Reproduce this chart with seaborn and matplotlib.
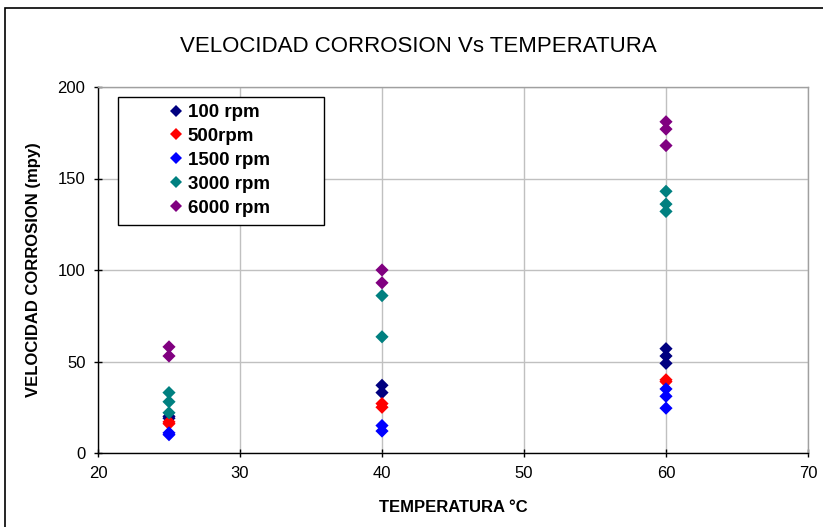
import matplotlib
matplotlib.use("Agg")
import matplotlib.pyplot as plt
from matplotlib.patches import Rectangle
import seaborn as sns
import pandas as pd

# Corrosion rate (mpy) measured at each temperature, per rotation speed
temperaturas = [25, 40, 60]
rpm_100 = {25: [20, 19], 40: [37, 33], 60: [57, 53, 49]}
rpm_500 = {25: [17, 16], 40: [27, 25], 60: [40, 39]}
rpm_1500 = {25: [11, 10], 40: [15, 12], 60: [35, 31, 24.5]}
rpm_3000 = {25: [33, 28, 22], 40: [86, 63.5], 60: [143, 136, 132]}
rpm_6000 = {25: [58, 53], 40: [100, 93], 60: [181, 177, 168]}

series = ["100 rpm", "500rpm", "1500 rpm", "3000 rpm", "6000 rpm"]
valores = [rpm_100, rpm_500, rpm_1500, rpm_3000, rpm_6000]
colores = ["#000080", "#FF0000", "#0000FF", "#008080", "#800080"]

filas = []
for nombre, datos in zip(series, valores):
    for t in temperaturas:
        for v in datos[t]:
            filas.append({"Temperatura": t, "Velocidad": v, "Serie": nombre})
df = pd.DataFrame(filas)

sns.set_theme(style="white")
plt.rcParams["font.family"] = ["Liberation Sans", "DejaVu Sans"]
plt.rcParams["text.color"] = "black"
plt.rcParams["axes.labelcolor"] = "black"

W, H = 823, 527
fig = plt.figure(figsize=(W / 100, H / 100), dpi=100)
fig.patch.set_facecolor("white")
ax = fig.add_axes([98 / W, 1 - 453 / H, (808 - 98) / W, (453 - 87) / H])

sns.scatterplot(
    data=df, x="Temperatura", y="Velocidad", hue="Serie",
    hue_order=series, palette=colores, marker="D", s=45,
    edgecolor="none", linewidth=0, ax=ax, zorder=3,
)

ax.set_xlim(20, 70)
ax.set_ylim(0, 200)
ax.set_xticks([20, 30, 40, 50, 60, 70])
ax.set_yticks([0, 50, 100, 150, 200])
ax.grid(True, color="#c0c0c0", linewidth=1.0)
ax.set_axisbelow(True)

for lado in ["top", "right"]:
    ax.spines[lado].set_color("#a0a0a0")
    ax.spines[lado].set_linewidth(1.0)
for lado in ["left", "bottom"]:
    ax.spines[lado].set_color("black")
    ax.spines[lado].set_linewidth(1.0)

ax.tick_params(axis="both", which="major", direction="inout", length=6,
               width=1, color="black", labelsize=12, colors="black",
               bottom=True, left=True, pad=6)
ax.set_xlabel("TEMPERATURA °C", fontsize=12, fontweight="bold", labelpad=14,
              color="black")
ax.set_ylabel("VELOCIDAD CORROSION (mpy)", fontsize=12, fontweight="bold",
              labelpad=12, color="black")

fig.text(0.508, 1 - 47 / H, "VELOCIDAD CORROSION Vs TEMPERATURA",
         ha="center", va="center", fontsize=16, color="black")

# legend box with the entries set towards its right side
caja = Rectangle((118 / W, 1 - 225 / H), (324 - 118) / W, (225 - 97) / H,
                 transform=fig.transFigure, facecolor="white",
                 edgecolor="black", linewidth=1.0, zorder=4)
ax.add_patch(caja)
caja.set_clip_on(False)

leg = ax.legend(
    loc="upper left", bbox_to_anchor=(167 / W, 1 - 104 / H),
    bbox_transform=fig.transFigure, frameon=False,
    prop={"weight": "bold", "size": 13.5}, handletextpad=0.1,
    borderpad=0, labelspacing=0.36, handlelength=1.0,
    borderaxespad=0, markerscale=0.95,
)
leg.set_zorder(5)

# outer chart border
fig.patches.append(Rectangle((5 / W, -0.05), 1.1, 1.05 - 8 / H,
                             transform=fig.transFigure, fill=False,
                             edgecolor="black", linewidth=1.2))

fig.savefig("out.png", dpi=100)
